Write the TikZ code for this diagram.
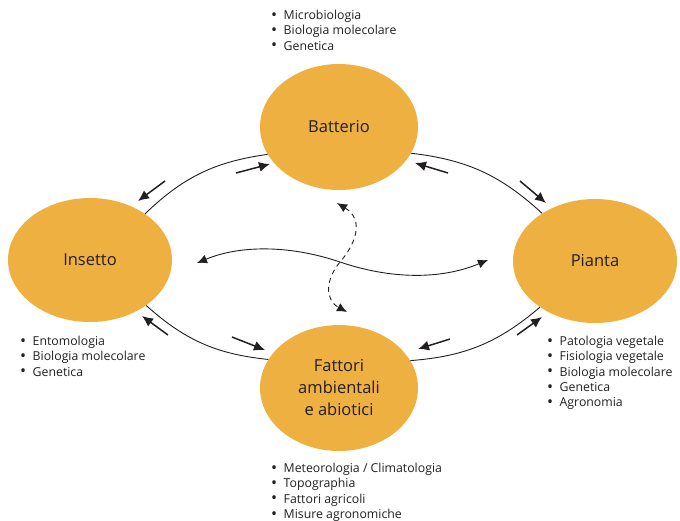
\documentclass[tikz,border=0pt]{standalone}
\usepackage{fontspec}
\setmainfont{Open Sans}
\usetikzlibrary{shapes.geometric,arrows.meta}
\definecolor{blob}{HTML}{EEB041}
\definecolor{ink}{HTML}{231F20}
\newcommand{\itm}[1]{\makebox[12.5pt][l]{\raisebox{-0.8pt}{\fontsize{16}{16}\selectfont\textbullet}}#1}
\tikzset{
  blob/.style={ellipse,fill=blob,inner sep=0pt,text=ink,align=center,font=\fontsize{16.5}{22}\selectfont},
  lst/.style={anchor=north west,inner sep=0pt,align=left,text=ink,font=\fontsize{12.3}{15.3}\selectfont},
  ring/.style={draw=ink,line width=0.9pt},
  hint/.style={draw=ink,line width=1.5pt,-{Latex[length=11pt,width=10pt]}},
  link/.style={draw=ink,line width=0.9pt,{Latex[length=10pt,width=9pt]}-{Latex[length=10pt,width=9pt]}}
}
\begin{document}
\begin{tikzpicture}[x=1pt,y=-1pt]
      \useasboundingbox (0,0) rectangle (680,520);
      \node[blob,minimum width=158pt,minimum height=126pt] (bat) at (339,127) {Batterio};
      \node[blob,minimum width=164pt,minimum height=124pt] (ins) at (90,260) {Insetto};
      \node[blob,minimum width=164pt,minimum height=124pt] (pia) at (595,261) {Pianta};
      \node[blob,minimum width=158pt,minimum height=126pt] (fat) at (339,388) {Fattori\\ambientali\\e abiotici};
      \node[lst] (lbat) at (271,10) {\itm{Microbiologia}\\\itm{Biologia molecolare}\\\itm{Genetica}};
      \node[lst] (lins) at (20,336) {\itm{Entomologia}\\\itm{Biologia molecolare}\\\itm{Genetica}};
      \node[lst] (lpia) at (547,336) {\itm{Patologia vegetale}\\\itm{Fisiologia vegetale}\\\itm{Biologia molecolare}\\\itm{Genetica}\\\itm{Agronomia}};
      \node[lst] (lfat) at (271,463) {\itm{Meteorologia / Climatologia}\\\itm{Topographia}\\\itm{Fattori agricoli}\\\itm{Misure agronomiche}};
      \coordinate (h1a) at (165,181); \coordinate (h1b) at (138,201);
      \coordinate (h2a) at (236,173); \coordinate (h2b) at (270,164);
      \coordinate (h3a) at (448,173); \coordinate (h3b) at (415,163);
      \coordinate (h4a) at (520,181); \coordinate (h4b) at (546,203);
      \coordinate (h5a) at (168,335); \coordinate (h5b) at (142,316);
      \coordinate (h6a) at (232,337); \coordinate (h6b) at (265,350);
      \coordinate (h7a) at (450,339); \coordinate (h7b) at (418,349);
      \coordinate (h8a) at (517,335); \coordinate (h8b) at (542,317);
      \coordinate (sl) at (197,263);
      \coordinate (sr) at (488,260);
      \coordinate (dt) at (337,203);
      \coordinate (db) at (347,312);
      \coordinate (mid) at (340,262);
      \begin{scope}[ring]
        \draw (bat.201) to[bend right=18] (ins.40);
        \draw (bat.340) to[bend left=18] (pia.138);
        \draw (ins.321) to[bend right=18] (fat.158);
        \draw (pia.220) to[bend left=18] (fat.21);
      \end{scope}
      \begin{scope}[hint]
        \draw (h1a) to (h1b);
        \draw (h2a) to (h2b);
        \draw (h3a) to (h3b);
        \draw (h4a) to (h4b);
        \draw (h5a) to (h5b);
        \draw (h6a) to (h6b);
        \draw (h7a) to (h7b);
        \draw (h8a) to (h8b);
      \end{scope}
      \draw[link] (sl) .. controls (240,245) and (290,245) .. (mid) .. controls (390,279) and (440,280) .. (sr);
      \draw[link,dash pattern=on 5pt off 4pt] (dt) .. controls (365,220) and (355,245) .. (mid) .. controls (325,280) and (325,300) .. (db);
    \end{tikzpicture}
\end{document}
